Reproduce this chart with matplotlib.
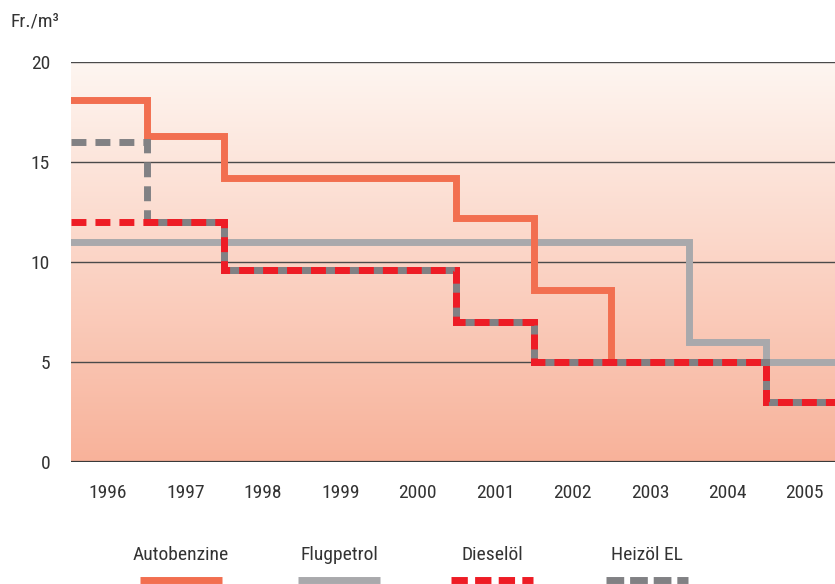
import numpy as np
import matplotlib
matplotlib.use("Agg")
import matplotlib.pyplot as plt
from matplotlib import font_manager
from matplotlib.colors import LinearSegmentedColormap

# Prefer a condensed face when one is installed
fonts = font_manager.fontManager.ttflist
preferred = ["Liberation Sans Narrow", "Roboto Condensed", "Open Sans Condensed",
             "Noto Sans Condensed", "DejaVu Sans Condensed"]
names = {f.name for f in fonts}
FONT, STRETCH = None, "normal"
for p in preferred:
    if p in names:
        FONT = p
        break
if FONT is None:
    for f in fonts:
        st = str(f.stretch).lower()
        if "condensed" in st or "narrow" in f.name.lower() or "condensed" in f.name.lower():
            FONT, STRETCH = f.name, f.stretch
            break
if FONT is None:
    FONT = "Roboto"
plt.rcParams["font.family"] = [FONT, "DejaVu Sans"]
plt.rcParams["font.stretch"] = STRETCH

years = [1996, 1997, 1998, 1999, 2000, 2001, 2002, 2003, 2004, 2005]

# Price levels in Fr./m3, one value per year
autobenzine = [18.1, 16.3, 14.2, 14.2, 14.2, 12.2, 8.6, 5.0]
flugpetrol = [11.0, 11.0, 11.0, 11.0, 11.0, 11.0, 11.0, 11.0, 6.0, 5.0]
dieseloel = [12.0, 12.0, 9.6, 9.6, 9.6, 7.0, 5.0, 5.0, 5.0, 3.0]
heizoel_el = [16.0, 12.0, 9.6, 9.6, 9.6, 7.0, 5.0, 5.0, 5.0, 3.0]

y_ticks = [0, 5, 10, 15, 20]
series_names = ["Autobenzine", "Flugpetrol", "Dieselöl", "Heizöl EL"]

C_AUTO = "#f26f50"
C_FLUG = "#a9a9ac"
C_DIES = "#ee1c25"
C_HEIZ = "#818184"
TXT = "#333333"

W, H = 835, 584
fig = plt.figure(figsize=(W / 100, H / 100), dpi=100)
ax = fig.add_axes([71 / W, 1 - 462 / H, 764 / W, 400 / H])

x0, x1 = 1995.52, 2005.39
ax.set_xlim(x0, x1)
ax.set_ylim(0, 20)

# Vertical gradient background
grad = np.linspace(0, 1, 256).reshape(-1, 1)
cmap = LinearSegmentedColormap.from_list("bg", ["#f8b29a", "#fef6f1"])
ax.imshow(grad, aspect="auto", cmap=cmap, origin="lower",
          extent=[x0, x1, 0, 20], zorder=0)

for yv in y_ticks[1:]:
    ax.axhline(yv, color="#4a4a4a", lw=1.0, zorder=1)
ax.axhline(0, color="#3a3a3a", lw=1.6, zorder=1)


def step_xy(vals, start_idx=0, end=None):
    """Build a step outline: each value spans its year +/- 0.5."""
    xs, ys = [], []
    for i in range(start_idx, len(vals)):
        xs += [years[i] - 0.5, years[i] + 0.5]
        ys += [vals[i], vals[i]]
    if end is not None:
        xs[-1] = end
    return xs, ys


LW = 5.0
DASH = (2.15, 1.3)

# Autobenzine ends with the drop to 5 at the 2002/2003 boundary
xa, ya = step_xy(autobenzine[:-1])
xa.append(xa[-1]); ya.append(autobenzine[-1])
ax.plot(xa, ya, color=C_AUTO, lw=LW, solid_joinstyle="miter",
        solid_capstyle="butt", zorder=3)

xf, yf = step_xy(flugpetrol, end=x1 + 0.2)
ax.plot(xf, yf, color=C_FLUG, lw=LW, solid_joinstyle="miter",
        solid_capstyle="butt", zorder=2)

# Heizöl EL: dashed on its own; where it runs with Dieselöl its colour
# fills the gaps between the red dashes
xh, yh = step_xy(heizoel_el, end=x1 + 0.2)
xh[0] = x0
ax.plot(xh, yh, color=C_HEIZ, lw=LW, linestyle=(0, DASH),
        dash_capstyle="butt", dash_joinstyle="miter", zorder=4)
xs, ys = step_xy(heizoel_el, start_idx=1, end=x1 + 0.2)
ax.plot(xs, ys, color=C_HEIZ, lw=LW, solid_joinstyle="miter",
        solid_capstyle="butt", zorder=4)

xd, yd = step_xy(dieseloel, end=x1 + 0.2)
xd[0] = x0
ax.plot(xd, yd, color=C_DIES, lw=LW, linestyle=(0, DASH), dash_capstyle="butt",
        dash_joinstyle="miter", zorder=5)

for s in ax.spines.values():
    s.set_visible(False)
ax.set_xticks(years)
ax.set_xticklabels([str(y) for y in years])
ax.set_yticks(y_ticks)
ax.tick_params(axis="both", length=0, labelsize=14, colors=TXT)
ax.tick_params(axis="x", pad=16)
ax.tick_params(axis="y", pad=15)

fig.text(10 / W, 1 - 22 / H, "Fr./m³", fontsize=14, color=TXT,
         ha="left", va="center")

# Legend row along the bottom
centers = [181, 339, 492, 647]
styles = [
    dict(color=C_AUTO),
    dict(color=C_FLUG),
    dict(color=C_DIES, linestyle=(0, (2.35, 1.05))),
    dict(color=C_HEIZ, linestyle=(0, (2.55, 0.85))),
]
lg = fig.add_axes([0, 0, 1, 1], facecolor="none")
lg.set_xlim(0, W)
lg.set_ylim(H, 0)
lg.axis("off")
for name, cx, st in zip(series_names, centers, styles):
    lg.text(cx, 555, name, fontsize=14, color=TXT, ha="center",
            va="center")
    lg.plot([cx - 41, cx + 41], [580, 580], lw=LW, solid_capstyle="butt",
            dash_capstyle="butt", **st)

fig.savefig("out.png", dpi=100)
